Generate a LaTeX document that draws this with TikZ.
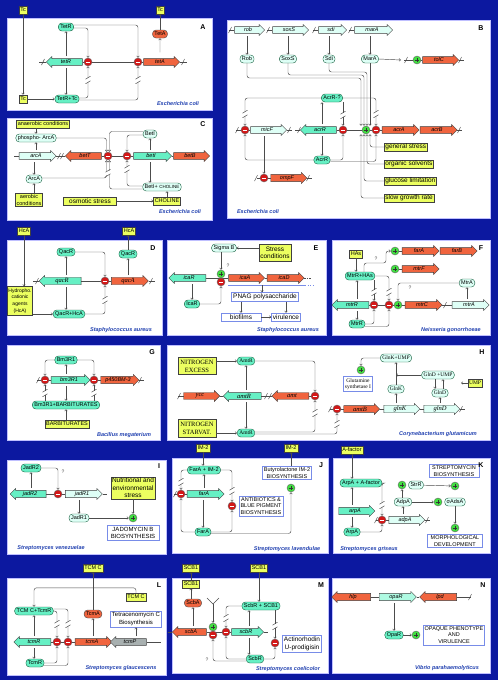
\documentclass[tikz,border=0pt]{standalone}
\usepackage{fontspec}
\setmainfont{Liberation Sans}
\newfontfamily\serifh{Liberation Serif}
\usetikzlibrary{shapes.arrows,arrows.meta}

\definecolor{bgblue}{RGB}{12,24,160}
\definecolor{genered}{RGB}{240,100,62}
\definecolor{turq}{RGB}{102,240,196}
\definecolor{midturq}{RGB}{175,250,226}
\definecolor{pale}{RGB}{222,255,246}
\definecolor{ylw}{RGB}{236,255,96}
\definecolor{specblue}{RGB}{32,64,176}
\definecolor{genegray}{RGB}{168,176,176}
\definecolor{protedge}{RGB}{24,96,64}
\definecolor{repred}{RGB}{212,24,24}
\definecolor{actgreen}{RGB}{64,224,64}
\definecolor{boxblue}{RGB}{120,140,232}

\newcommand{\cutmark}[2]{%
  \fill[white] ({#1-2.6},{#2-2.2}) rectangle ({#1+2.6},{#2+2.2});
  \draw[dna] ({#1-2.5},{#2-0.8}) -- ({#1+2.5},{#2-3.8})
             ({#1-2.5},{#2+3.8}) -- ({#1+2.5},{#2+0.8});}
\newcommand{\dnaslash}[2]{\draw[dna] ({#1-1.5},{#2+3}) -- ({#1+1.5},{#2-3});}

\tikzset{
  every node/.style={font=\fontsize{5.5}{6.5}\selectfont},
  panel/.style={fill=white, draw=blue!25},
  gene/.style={single arrow, draw=black!75, line width=0.4pt,
               single arrow head extend=1.6pt, minimum width=11pt,
               inner sep=0.3pt, font=\fontsize{5.5}{6}\selectfont\itshape},
  rgene/.style={gene, fill=genered, minimum height=#1},
  tgene/.style={gene, fill=turq, minimum height=#1},
  pgene/.style={gene, fill=pale, minimum height=#1},
  ogene/.style={gene, fill=midturq, minimum height=#1},
  graygene/.style={gene, fill=genegray, minimum height=#1},
  leftg/.style={shape border rotate=180},
  sgene/.style={font=\serifh\itshape\fontsize{6.5}{7}\selectfont},
  repc/.style={circle, draw=black!60, fill=repred, minimum size=8pt, inner sep=0pt,
    path picture={\draw[white, line width=0.9pt]
      ([xshift=-2.3pt]path picture bounding box.center) --
      ([xshift=2.3pt]path picture bounding box.center);}},
  actc/.style={circle, draw=black!60, fill=actgreen, minimum size=8pt, inner sep=0pt,
    path picture={\draw[black!80, line width=0.8pt]
      ([xshift=-2.3pt]path picture bounding box.center) --
      ([xshift=2.3pt]path picture bounding box.center)
      ([yshift=-2.3pt]path picture bounding box.center) --
      ([yshift=2.3pt]path picture bounding box.center);}},
  prot/.style={rectangle, rounded corners=3.5pt, draw=protedge, fill=turq,
               minimum height=8pt, inner ysep=0.8pt, inner xsep=2pt},
  pprot/.style={prot, fill=pale},
  rprot/.style={prot, fill=genered, draw=black!70},
  ybox/.style={rectangle, draw=black!75, fill=ylw, inner sep=1.2pt,
               minimum height=8pt, align=center},
  bbox/.style={rectangle, draw=boxblue, line width=0.6pt, fill=white,
               inner sep=1.5pt, align=center},
  bigtxt/.style={font=\fontsize{6.5}{7.5}\selectfont},
  hser/.style={font=\serifh\fontsize{5.5}{6.5}\selectfont},
  conn/.style={draw=black!70, line width=0.45pt, rounded corners=2.5pt,
               -{Straight Barb[length=1.6pt,width=2.6pt]}},
  gup/.style={conn, shorten <=6pt},
  wire/.style={draw=black!70, line width=0.45pt},
  dna/.style={draw=black!70, line width=0.45pt},
  plabel/.style={font=\bfseries\fontsize{7}{8}\selectfont},
  species/.style={font=\bfseries\itshape\fontsize{5.5}{6}\selectfont, text=specblue},
  qmark/.style={font=\fontsize{5}{6}\selectfont, text=black!70}
}

\begin{document}
\begin{tikzpicture}[x=1pt,y=-1pt]
\useasboundingbox (0,0) rectangle (498,680);
\fill[bgblue] (0,0) rectangle (498,680);
% panels
\foreach \xa/\ya/\xb/\yb in {7/18/212/110, 227/20/490/218, 7/118/212/220,
    7/240/162/335, 167/240/326/335, 332/240/490/335, 7/345/160/440,
    167/345/490/440, 7/460/166/554, 172/458/328/553, 333/458/490/553,
    7/578/166/675, 172/578/328/673, 332/578/490/673}
  \path[panel] (\xa,\ya) rectangle (\xb,\yb);

%% ---------------- A
\node[tgene=36, leftg] (atetR) at (66,62) {tetR};
\node[rgene=36] (atetA) at (160,62) {tetA};
\draw[dna] (atetR.tip) -- ++(-7,0);
\draw[dna] (atetR.tail) -- (atetA.tail);
\draw[dna] (atetA.tip) -- ++(7,0);
\dnaslash{43}{62} \dnaslash{183}{62}
\node[repc] (am1) at (88,62) {};
\node[repc] (am2) at (138,62) {};
\node[ybox] (aTc1) at (23,10) {Tc};
\node[ybox] (aTc2) at (23,99) {Tc};
\node[ybox] (aTc3) at (160,10) {Tc};
\node[prot] (aTetR) at (66,27) {TetR};
\node[prot] (aTetRTc) at (67,99) {TetR+Tc};
\node[rprot] (aTetA) at (160,34) {TetA};
\draw[conn] (aTc1) -- (aTc2);
\draw[conn] (aTc2) -- (aTetRTc);
\draw[gup] (aTetR |- atetR) -- (aTetR);
\draw[gup] (aTetR |- atetR) -- (aTetR |- aTetRTc.north);
\draw[conn] ([yshift=2pt]aTetR.east) -| (am2);
\draw[conn] ([yshift=-1pt]aTetR.east) -| (am1);
\draw[conn] ([yshift=1pt]aTetRTc.east) -| (am1);
\draw[conn] ([yshift=-1pt]aTetRTc.east) -| (am2);
\cutmark{88}{80} \cutmark{138}{80}
\draw[gup] (atetA) -- (aTetA);
\draw[conn] (aTetA) -- (aTc3);
\node[plabel] (labA) at (203,27) {A};
\node[species] (spA) at (178,104) {Escherichia coli};

%% ---------------- B
\node[pgene=30] (brob) at (248,30) {rob};
\node[pgene=36] (bsoxS) at (289,30) {soxS};
\node[pgene=28] (bsdi) at (331,30) {sdi};
\node[pgene=38] (bmarA) at (372,30) {marA};
\foreach \g in {brob,bsoxS,bsdi,bmarA} {\draw[dna] (\g.tail) -- ++(-5,0);}
\foreach \x in {230,268,314,350} {\dnaslash{\x}{30}}
\node[pgene=36] (bmicF) at (267,130) {micF};
\node[tgene=36, leftg] (bacrR) at (320,130) {acrR};
\node[rgene=37] (bacrA) at (399,130) {acrA};
\node[rgene=37] (bacrB) at (437,130) {acrB};
\node[rgene=36] (btolC) at (439,60) {tolC};
\node[rgene=36] (bompF) at (287,178) {ompF};
\draw[dna] (bmicF.tail) -- ++(-14,0); \dnaslash{237}{130}
\draw[dna] (bmicF.tip) -- ++(5,0); \dnaslash{289}{130}
\draw[dna] (bacrR.tip) -- ++(-5,0); \dnaslash{299}{130}
\draw[dna] (bacrR.tail) -- (bacrA.tail);
\draw[dna] (bacrB.tip) -- ++(5,0); \dnaslash{459}{130}
\draw[dna] (btolC.tail) -- ++(-18,0); \dnaslash{406}{60}
\draw[dna] (btolC.tip) -- ++(5,0); \dnaslash{460}{60}
\draw[dna] (bompF.tail) -- ++(-14,0); \dnaslash{256}{178}
\draw[dna] (bompF.tip) -- ++(5,0); \dnaslash{308}{178}
\node[repc] (bm1) at (245,130) {};
\node[repc] (bm2) at (343,130) {};
\node[actc] (bp2) at (366,130) {};
\node[repc] (bm3) at (376,130) {};
\node[actc] (bp1) at (417,60) {};
\node[repc] (bm4) at (264,178) {};
\node[pprot] (bRob) at (247,59) {Rob};
\node[pprot] (bSoxS) at (288,59) {SoxS};
\node[pprot] (bSdi) at (329,59) {Sdi};
\node[pprot] (bMarA) at (370,59) {MarA};
\node[prot] (bAcrRq) at (332,98) {AcrR-?};
\node[prot] (bAcrR) at (322,160) {AcrR};
\node[ybox, bigtxt, anchor=west] (bgs) at (384,147) {general stress};
\node[ybox, bigtxt, anchor=west] (bos) at (384,164) {organic solvents};
\node[ybox, bigtxt, anchor=west] (bgl) at (384,181) {glucose limitation};
\node[ybox, bigtxt, anchor=west] (bsg) at (384,198) {slow growth rate};
\foreach \g/\p in {brob/bRob, bsoxS/bSoxS, bsdi/bSdi, bmarA/bMarA}
  {\draw[gup] (\p |- \g) -- (\p);}
\draw[conn] (bRob.south) |- (361,78) -- (361,78 |- bp2.north);
\draw[conn] (bSoxS.south) |- (364,75) -- (364,75 |- bp2.north);
\draw[conn] (bSdi.south) |- (367,72) -- (367,72 |- bp2.north);
\draw[conn] (bMarA.south) -- (bMarA.south |- bp2.north);
\coordinate (bq1) at (401,60);
\draw[conn] (bMarA.east) -- (bq1);
\draw[gup] (bAcrR |- bacrR) -- (bAcrR |- bAcrRq.south);
\draw[gup] (bAcrR |- bacrR) -- (bAcrR);
\draw[conn] (bAcrRq.west) -| (bm1);
\draw[conn] (bAcrRq.east) -| (bm3);
\draw[conn] (bAcrRq.south -| bm2) -- (bm2);
\cutmark{245}{114} \cutmark{376}{114} \cutmark{343}{115}
\draw[conn] (bAcrR.west) -| (bm1);
\draw[conn] (bAcrR.east) -| (bm2);
\draw[conn] ([yshift=-1.5pt]bAcrR.east) -| (bm3);
\draw[gup] (bm4 |- bmicF) -- (bm4);
\draw[conn] (bgs.west) -| (370,147 |- bp2.south);
\draw[conn] (bos.west) -| (367,164 |- bp2.south);
\draw[conn] (bgl.west) -| (364,181 |- bp2.south);
\draw[conn] (bsg.west) -| (361,198 |- bp2.south);
\node[plabel] (labB) at (481,28) {B};
\node[species] (spB) at (258,212) {Escherichia coli};

%% ---------------- C
\node[pgene=37] (carcA) at (36,156) {arcA};
\node[rgene=36, leftg] (cbetT) at (85,156) {betT};
\node[tgene=38] (cbetI) at (151,156) {betI};
\node[rgene=36] (cbetB) at (190,156) {betB};
\draw[dna] (carcA.tail) -- ++(-5,0);
\draw[dna] (carcA.tip) -- (cbetT.tip); \dnaslash{59}{156} \dnaslash{62}{156}
\draw[dna] (cbetT.tail) -- (cbetI.tail);
\draw[dna] (cbetI.tip) -- (cbetB.tail);
\node[repc] (cm1) at (108,156) {};
\node[repc] (cm2) at (127,156) {};
\node[ybox] (cana) at (43,124) {anaerobic conditions};
\node[pprot] (cpArcA) at (36,138) {phospho- ArcA};
\node[pprot] (cArcA) at (34,179) {ArcA};
\node[ybox] (caer) at (29,200) {aerobic\\conditions};
\node[pprot] (cBetI) at (150,134) {BetI};
\node[pprot] (cBetIC) at (162,187) {BetI+ {\fontsize{4.5}{5}\selectfont CHOLINE}};
\node[ybox] (cchol) at (167,201) {CHOLINE};
\node[ybox, bigtxt, minimum width=53pt] (cosm) at (90,201) {osmotic stress};
\draw[conn] (cana.south -| cpArcA) -- (cpArcA);
\draw[gup] (cpArcA |- carcA) -- (cpArcA);
\draw[gup] (cArcA |- carcA) -- (cArcA);
\draw[conn] (caer.north -| cArcA) -- (cArcA);
\draw[conn] (cpArcA.east) -| ([xshift=-1.5pt]cm1.north);
\draw[conn] ([yshift=2.5pt]cBetI.west) -| ([xshift=1.5pt]cm1.north);
\draw[conn] ([yshift=-1pt]cBetI.west) -| (cm2);
\draw[conn] ([yshift=1pt]cArcA.east) -| ([xshift=-1.5pt]cm1.south);
\draw[conn] ([yshift=-2pt]cBetIC.west) -| ([xshift=1.5pt]cm1.south);
\draw[conn] ([yshift=1pt]cBetIC.west) -| (cm2);
\cutmark{108}{173} \cutmark{127}{169}
\draw[conn] (cosm) -- (cchol);
\draw[conn] (cchol.north) -- (cchol.north |- cBetIC.south);
\draw[gup] (cBetI |- cbetI) -- (cBetI);
\draw[gup] (cBetI |- cbetI) -- (cBetI |- cBetIC.north);
\node[plabel] (labC) at (203,124) {C};
\node[species] (spC) at (180,212) {Escherichia coli};

%% ---------------- D
\node[tgene=42, leftg, sgene] (dqacR) at (62,281) {qacR};
\node[rgene=37, sgene] (dqacA) at (128,281) {qacA};
\draw[dna] (dqacR.tip) -- ++(-6,0); \dnaslash{37}{281}
\draw[dna] (dqacR.tail) -- (dqacA.tail);
\draw[dna] (dqacA.tip) -- ++(6,0); \dnaslash{151}{281}
\node[repc] (dm) at (105,281) {};
\node[ybox] (dHcA1) at (24,231) {HcA};
\node[ybox] (dHcA2) at (129,231) {HcA};
\node[ybox, font=\fontsize{5}{6.8}\selectfont, inner xsep=0.8pt, inner ysep=2pt] (dhyd) at (20,301) {Hydropho.\\cationic\\agents\\(HcA)};
\node[prot] (dQacR1) at (66,252) {QacR};
\node[prot] (dQacR2) at (128,254) {QacR};
\node[prot] (dQH) at (69,314) {QacR+HcA};
\draw[conn] (dHcA1) -- (dHcA1 |- dhyd.north);
\draw[conn] (dhyd.east |- dQH) -- (dQH);
\draw[gup] (dQacR1 |- dqacR) -- (dQacR1);
\draw[gup] (dQacR1 |- dqacR) -- (dQacR1 |- dQH.north);
\draw[conn] (dQacR1.east) -| (dm);
\draw[conn] (dQH.east) -| (dm); \cutmark{105}{300}
\draw[gup] (dQacR2 |- dqacA) -- (dQacR2);
\draw[conn] (dQacR2) -- (dQacR2 |- dHcA2.south);
\node[plabel] (labD) at (153,248) {D};
\node[species] (spD) at (121,330) {Staphylococcus aureus};

%% ---------------- E
\node[tgene=37, leftg] (eicaR) at (189,278) {icaR};
\node[rgene=36] (eicaA) at (245,278) {icaA};
\node[rgene=37] (eicaD) at (284,278) {icaD};
\draw[dna] (eicaR.tail) -- (eicaA.tail);
\draw[dna] (eicaA.tip) -- (eicaD.tail);
\draw[dna, dash pattern=on 1.5pt off 1pt] (eicaD.tip) -- ++(7,0);
\node[actc] (ep) at (221,274) {};
\node[repc] (em) at (221,282) {};
\coordinate (eb1) at (228,285);
\coordinate (eb2) at (305,285);
\coordinate (eb3) at (314,285);
\draw[boxblue, line width=0.6pt] (eb1) -- (eb2);
\draw[boxblue, line width=0.6pt, dotted] (eb2) -- (eb3);
\node[pprot] (eSigB) at (224,248) {Sigma B};
\node[ybox, bigtxt, inner ysep=2.5pt] (estress) at (275,253) {Stress\\conditions};
\node[bbox, bigtxt] (ePNAG) at (265,297) {PNAG polysaccharide};
\node[prot] (eIcaR) at (192,304) {IcaR};
\node[bbox, bigtxt, minimum width=40pt] (ebio) at (241,317) {biofilms};
\node[bbox, bigtxt] (evir) at (286,317) {virulence};
\node[qmark] (eq) at (228,266) {?};
\draw[conn] (estress.west |- eSigB) -- (eSigB);
\draw[conn] (eSigB.south -| ep) -- (ep);
\draw[gup] (eIcaR |- eicaR) -- (eIcaR);
\draw[conn] (eIcaR.east) -| (em);
\coordinate (eb4) at (262,285);
\draw[conn] (eb4) -- (eb4 |- ePNAG.north);
\draw[conn] (ePNAG.south -| ebio) -- (ebio);
\draw[conn] (ePNAG.south -| evir) -- (evir);
\draw[conn] (ebio) -- (evir);
\node[plabel] (labE) at (316,248) {E};
\node[species] (spE) at (288,330) {Staphylococcus aureus};

%% ---------------- F
\node[rgene=37] (ffarA) at (419,251) {farA};
\node[rgene=37] (ffarB) at (457,251) {farB};
\node[rgene=37] (fmtrF) at (419,269) {mtrF};
\node[tgene=37, leftg] (fmtrR) at (352,305) {mtrR};
\node[rgene=37] (fmtrC) at (422,305) {mtrC};
\node[pgene=37] (fmtrA) at (469,305) {mtrA};
\draw[dna] (ffarA.tail) -- ++(-11,0);
\draw[dna] (fmtrF.tail) -- ++(-11,0);
\draw[dna] (fmtrR.tail) -- (fmtrC.tail);
\draw[dna] (fmtrC.tip) -- (fmtrA.tail); \dnaslash{445}{305}
\node[actc] (fpA) at (395,251) {};
\node[actc] (fpF) at (395,269) {};
\node[repc] (fm1) at (374,305) {};
\node[repc] (fm2) at (389,305) {};
\node[actc] (fpC) at (398,305) {};
\node[ybox] (fHAs) at (356,254) {HAs};
\node[prot] (fMH) at (360,276) {MtrR+HAs};
\node[pprot] (fMtrA) at (467,283) {MtrA};
\node[prot] (fMtrR) at (357,324) {MtrR};
\node[qmark] (fq1) at (376,259) {?};
\node[qmark] (fq2) at (410,288) {?};
\draw[conn] (fHAs) -- (fHAs |- fMH.north);
\draw[conn] ([xshift=4pt]fMH.north) |- (386,263) |- (fpA.west);
\draw[conn] (fMH.south -| fm1) -- (fm1);
\draw[conn] (fMH.east) -| (fm2);
\cutmark{374}{292} \cutmark{389}{292}
\draw[conn] (fMtrA.west) -| (fpC);
\draw[gup] (fMtrA |- fmtrA) -- (fMtrA);
\draw[gup] (fMtrR |- fmtrR) -- (fMtrR |- fMH.south);
\draw[gup] (fMtrR |- fmtrR) -- (fMtrR);
\draw[conn] (fMtrR.east) -| (fm1);
\draw[conn] ([yshift=-2.5pt]fMtrR.east) -| (fm2);
\node[plabel] (labF) at (481,248) {F};
\node[species] (spF) at (451,330) {Neisseria gonorrhoeae};

%% ---------------- G
\node[tgene=39] (gbm) at (69,380) {bm3R1};
\node[rgene=38] (gp450) at (118,380) {p450BM-3};
\draw[dna] (gbm.tail) -- ++(-14,0); \dnaslash{38}{380}
\draw[dna] (gbm.tip) -- (gp450.tail);
\draw[dna] (gp450.tip) -- ++(5,0); \dnaslash{140}{380}
\node[repc] (gm1) at (45,380) {};
\node[repc] (gm2) at (94,380) {};
\node[prot] (gBm) at (66,360) {Bm3R1};
\node[prot] (gBmB) at (66,405) {Bm3R1+BARBITURATES};
\node[ybox] (gbarb) at (67,424) {BARBITURATES};
\draw[conn] (gBm.west) -| (gm1);
\draw[conn] (gBm.east) -| (gm2);
\draw[gup] (gBm |- gbm) -- (gBm);
\draw[gup] (gBm |- gbm) -- (gBm |- gBmB.north);
\draw[conn] (gBmB.north -| gm1) -- (gm1);
\draw[conn] (gBmB.north -| gm2) -- (gm2);
\cutmark{45}{393} \cutmark{94}{393}
\draw[conn] (gbarb.north -| gBmB) -- (gBmB);
\node[plabel] (labG) at (152,352) {G};
\node[species] (spG) at (124,435) {Bacillus megaterium};

%% ---------------- H
\node[rgene=36, sgene] (hycc) at (200,396) {ycc};
\node[tgene=38, leftg, sgene] (hamtR) at (244,396) {amtR};
\node[rgene=37, leftg, sgene] (hamt) at (292,396) {amt};
\node[rgene=36, sgene] (hamtB) at (360,409) {amtB};
\node[pgene=36, sgene] (hglnK) at (400,409) {glnK};
\node[pgene=36, sgene] (hglnD) at (440,409) {glnD};
\draw[dna] (hycc.tail) -- ++(-6,0); \dnaslash{179}{396}
\draw[dna] (hycc.tip) -- (hamtR.tip);
\draw[dna] (hamtR.tail) -- (hamt.tip); \dnaslash{266}{396} \dnaslash{270}{396}
\draw[dna] (hamt.tail) -- ++(6,0);
\draw[dna] (hamtB.tail) -- ++(-14,0); \dnaslash{330}{409}
\draw[dna] (hamtB.tip) -- (hglnK.tail);
\draw[dna] (hglnK.tip) -- (hglnD.tail);
\draw[dna] (hglnD.tip) -- ++(5,0); \dnaslash{461}{409}
\node[repc] (hm1) at (315,396) {};
\node[repc] (hm2) at (337,409) {};
\node[ybox, font=\serifh\fontsize{6.5}{8}\selectfont, inner sep=2.5pt] (hNE) at (197,366) {NITROGEN\\EXCESS};
\node[ybox, font=\serifh\fontsize{6.5}{8}\selectfont, inner sep=2.5pt] (hNS) at (197,428) {NITROGEN\\STARVAT.};
\node[prot, hser] (hAmtR1) at (246,361) {AmtR};
\node[prot, hser] (hAmtR2) at (246,433) {AmtR};
\node[pprot, hser] (hGKU) at (396,358) {GlnK+UMP};
\node[actc] (hp) at (361,370) {};
\node[bbox, hser] (hGS) at (358,384) {Glutamine\\synthetase I};
\node[pprot, hser] (hGlnK) at (396,389) {GlnK};
\node[pprot, hser] (hGDU) at (438,375) {GlnD +UMP};
\node[ybox, hser] (hUMP) at (475,383) {UMP};
\node[pprot, hser] (hGlnD) at (440,393) {GlnD};
\draw[conn] (hNE.east |- hAmtR1) -- (hAmtR1);
\draw[conn] (hNS.east |- hAmtR2) -- (hAmtR2);
\draw[gup] (hAmtR1 |- hamtR) -- (hAmtR1);
\draw[gup] (hAmtR1 |- hamtR) -- (hAmtR1 |- hAmtR2.north);
\draw[conn] (hAmtR1.east) -| (hm1);
\draw[conn] ([yshift=1pt]hAmtR2.east) -| (hm1);
\draw[conn] ([yshift=-1pt]hAmtR2.east) -| (hm2);
\cutmark{315}{413} \cutmark{337}{424}
\draw[conn] (hGKU.west) -| (hp);
\draw[gup] (hGlnK |- hglnK) -- (hGlnK);
\draw[conn] (hGlnK) -- (hGKU);
\draw[conn] (hGDU.west) -- (hGDU.west -| hGlnK);
\coordinate (hu) at (461,383);
\draw[conn] (hUMP.west) -- (hu);
\draw[gup] (hGlnD |- hglnD) -- (hGlnD);
\draw[conn] ([xshift=-3pt]hGDU.south) -- ([xshift=-3pt]hGDU.south |- hGlnD.north);
\draw[conn] ([xshift=3pt]hGlnD.north) -- ([xshift=3pt]hGlnD.north |- hGDU.south);
\node[plabel] (labH) at (482,352) {H};
\node[species] (spH) at (438,434) {Corynebacterium glutamicum};

%% ---------------- I
\node[tgene=36, leftg] (ijadR2) at (30,494) {jadR2};
\node[pgene=37] (ijadR1) at (82,494) {jadR1};
\draw[dna] (ijadR2.tail) -- (ijadR1.tail);
\draw[dna] (ijadR1.tip) -- ++(4,0);
\node[repc] (im) at (58,494) {};
\node[prot] (iJ2) at (31,468) {JadR2};
\node[pprot] (iJ1) at (79,518) {JadR1};
\node[ybox, bigtxt] (instress) at (133,488) {Nutritional and\\environmental\\stress};
\node[actc] (ip) at (133,518) {};
\node[bbox, font=\fontsize{6}{7.5}\selectfont, inner xsep=4pt] (ijado) at (133,533) {JADOMYCIN B\\BIOSYNTHESIS};
\node[qmark] (iq) at (63,472) {?};
\draw[gup] (iJ2 |- ijadR2) -- (iJ2);
\draw[conn] (iJ2.east) -| (im);
\draw[gup] (iJ1 |- ijadR1) -- (iJ1);
\draw[conn] (iJ1) -- (ip);
\draw[conn] (instress) -- (ip);
\node[plabel] (labI) at (159,466) {I};
\node[species] (spI) at (51,548) {Streptomyces venezuelae};

%% ---------------- J
\node[tgene=37] (jfarA) at (204,494) {farA};
\draw[dna] (jfarA.tail) -- ++(-13,0); \dnaslash{175}{494}
\node[repc] (jm1) at (181,494) {};
\node[repc] (jm2) at (232,506) {};
\node[ybox] (jIM1) at (203,448) {IM-2};
\node[prot] (jFI) at (204,470) {FarA + IM-2};
\node[prot] (jFarA) at (203,532) {FarA};
\node[bbox] (jab) at (261,506) {ANTIBIOTICS \&\\BLUE PIGMENT\\BIOSYNTHESIS};
\node[bbox] (jbut) at (287,473) {Butyrolactone IM-2\\BIOSYNTHESIS};
\node[ybox] (jIM2) at (291,448) {IM-2};
\node[actc] (jp) at (291,488) {};
\draw[conn] (jIM1) -- (jIM1 |- jFI.north);
\draw[gup] (jFI |- jfarA) -- (jFI);
\draw[gup] (jFarA |- jfarA) -- (jFarA);
\draw[conn] (jFI.west) -| (jm1);
\draw[conn] (jFarA.west) -| (jm1);
\draw[conn] (jFI.east) -| (jm2);
\draw[conn] (jFarA.east) -| (jm2);
\cutmark{181}{482} \cutmark{232}{491}
\draw[conn] ([yshift=-1.5pt]jFarA.east) -| (jp);
\draw[conn] (jbut.north -| jIM2) -- (jIM2);
\node[plabel] (labJ) at (321,465) {J};
\node[species] (spJ) at (287,549) {Streptomyces lavendulae};

%% ---------------- K
\node[tgene=36] (karpA) at (355,511) {arpA};
\node[pgene=36] (kadpA) at (405,520) {adpA};
\draw[dna] (kadpA.tail) -- ++(-13,0); \dnaslash{376}{520}
\draw[dna] (kadpA.tip) -- ++(5,0); \dnaslash{427}{520}
\node[repc] (km) at (382,520) {};
\node[ybox] (kAf) at (352,450) {A-factor};
\node[prot] (kAA) at (361,483) {ArpA + A-factor};
\node[prot] (kArpA) at (352,532) {ArpA};
\node[pprot] (kAdpA) at (403,502) {AdpA};
\node[actc] (kp1) at (402,485) {};
\node[pprot] (kStrR) at (416,485) {StrR};
\node[bbox, inner xsep=3pt] (kstrep) at (454,471) {STREPTOMYCIN\\BIOSYNTHESIS};
\node[actc] (kp2) at (455,486) {};
\node[actc] (kp3) at (438,502) {};
\node[pprot] (kads) at (455,502) {σAdsA};
\node[actc] (kp4) at (455,528) {};
\node[bbox, inner xsep=3pt] (kmorph) at (455,541) {MORPHOLOGICAL\\DEVELOPMENT};
\draw[conn] (kAf) -- (kAf |- kAA.north);
\draw[gup] (kAf |- karpA) -- (kAf |- kAA.south);
\draw[gup] (kArpA |- karpA) -- (kArpA);
\draw[conn] (kAA.east) -| (km);
\draw[conn] (kArpA.east) -| (km);
\cutmark{382}{505}
\draw[gup] (kAdpA |- kadpA) -- (kAdpA);
\draw[conn] (kAdpA.north -| kp1) -- (kp1);
\draw[conn] (kStrR) -- (kp2);
\draw[conn] (kAdpA) -- (kp3);
\draw[conn] (kads) -- (kp4);
\node[plabel] (labK) at (481,465) {K};
\node[species] (spK) at (369,549) {Streptomyces griseus};

%% ---------------- L
\node[tgene=37, leftg] (ltcmR) at (34,642) {tcmR};
\node[rgene=37] (ltcmA) at (92,642) {tcmA};
\node[graygene=36, leftg] (ltcmP) at (130,642) {tcmP};
\draw[dna] (ltcmR.tail) -- (ltcmA.tail);
\draw[dna] (ltcmP.tail) -- ++(14,0);
\node[repc] (lm1) at (57,642) {};
\node[repc] (lm2) at (68,642) {};
\node[ybox] (lTC1) at (93,568) {TCM C};
\node[ybox] (lTC2) at (136,597) {TCM C};
\node[prot] (lTT) at (34,611) {TCM C+TcmR};
\node[rprot] (lTcmA) at (93,614) {TcmA};
\node[bbox, font=\fontsize{6}{7.5}\selectfont] (ltet) at (136,619) {Tetracenomycin C\\Biosynthesis};
\node[prot] (lTcmR) at (35,663) {TcmR};
\draw[conn] (lTC2.north) -- ++(0,-5) -| (lTT.north);
\draw[conn] (lTcmA) -- (lTC1);
\draw[gup] (lTcmA |- ltcmA) -- (lTcmA);
\draw[gup] (ltet |- ltcmP) -- (ltet);
\draw[gup] (lTT |- ltcmR) -- (lTT);
\draw[gup] (lTT |- ltcmR) -- (lTT |- lTcmR.north);
\draw[conn] (lTT.east) -| (lm1);
\draw[conn] ([yshift=2pt]lTT.east) -| (lm2);
\cutmark{57}{624} \cutmark{68}{624}
\draw[conn] (lTcmR.east) -| (lm1);
\draw[conn] ([yshift=-2.5pt]lTcmR.east) -| (lm2);
\node[plabel] (labL) at (159,585) {L};
\node[species] (spL) at (121,668) {Streptomyces glaucescens};

%% ---------------- M
\node[rgene=34, leftg] (mscbA) at (191,632) {scbA};
\node[tgene=32] (mscbR) at (246,632) {scbR};
\draw[dna] (mscbA.tip) -- ++(-4,0);
\draw[dna] (mscbA.tail) -- (mscbR.tail);
\draw[dna] (mscbR.tip) -- ++(4,0);
\node[actc] (mp) at (213,627) {};
\node[repc] (mm0) at (213,635) {};
\node[repc] (mm1) at (226,632) {};
\node[ybox] (mS1) at (191,568) {SCB1};
\node[ybox] (mS2) at (191,584) {SCB1};
\node[rprot] (mScbA) at (193,603) {ScbA};
\node[ybox] (mS3) at (259,568) {SCB1};
\node[prot] (mSS) at (261,606) {ScbR + SCB1};
\node[prot] (mScbR) at (255,659) {ScbR};
\node[repc] (mm2) at (275,643) {};
\node[bbox, bigtxt] (mact) at (302,644) {Actinorhodin\\U-prodigisin};
\node[qmark] (mq) at (207,660) {?};
\draw[conn] (mS2) -- (mS1);
\draw[conn] (mScbA.north -| mS2) -- (mS2);
\draw[gup] (mScbA |- mscbA) -- (mScbA);
\draw[conn] (mS3) -- (mS3 |- mSS.north);
\coordinate (mx) at (249,632);
\draw[gup] (mx) -- (mx |- mSS.south);
\draw[gup] (mx) -- (mx |- mScbR.north);
\coordinate (myl) at (207,598);
\coordinate (myr) at (219,598);
\coordinate (my) at (213,604);
\draw[wire] (myl) -- (my) -- (myr);
\draw[conn] (my) -- (mp);
\draw[conn] (mSS.west) -| (mm1);
\cutmark{226}{618}
\draw[conn] (mScbR.west) -| (mm1);
\draw[conn] ([yshift=-2pt]mScbR.west) -| (mm0);
\draw[conn] (mScbR.east) -| (mm2);
\draw[conn] (mSS.south -| mm2) -- (mm2);
\cutmark{275}{626}
\node[plabel] (labM) at (321,585) {M};
\node[species] (spM) at (288,669) {Streptomyces coelicolor};

%% ---------------- N
\node[rgene=39, leftg] (nhlp) at (353,597) {hlp};
\node[ogene=37] (nopaR) at (396,597) {opaR};
\node[rgene=37, leftg] (nlpd) at (440,597) {lpd};
\draw[dna] (nhlp.tail) -- (nopaR.tail);
\draw[dna] (nopaR.tip) -- (nlpd.tip);
\draw[dna] (nlpd.tail) -- ++(14,0); \dnaslash{470}{597}
\node[prot] (nOpaR) at (394,635) {OpaR};
\node[actc] (np) at (416,635) {};
\node[bbox] (nopq) at (454,635) {OPAQUE PHENOTYPE\\AND\\VIRULENCE};
\draw[gup] (nOpaR |- nopaR) -- (nOpaR);
\draw[conn] (nOpaR) -- (np);
\node[plabel] (labN) at (483,585) {N};
\node[species] (spN) at (447,668) {Vibrio parahaemolyticus};
\end{tikzpicture}
\end{document}
